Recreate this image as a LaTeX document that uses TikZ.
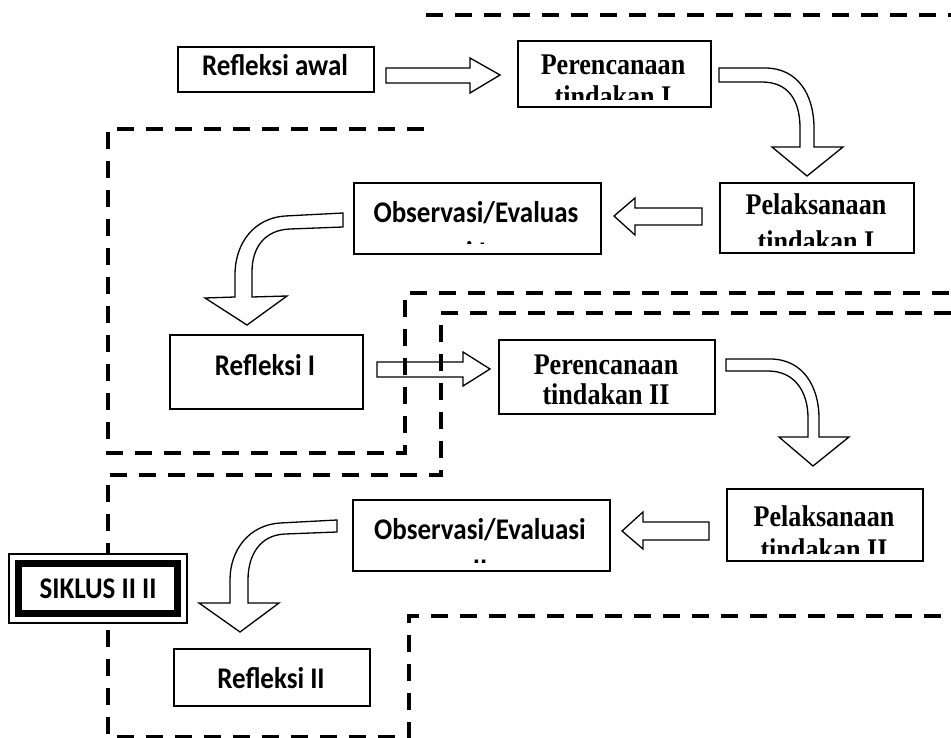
\documentclass[tikz,border=0pt]{standalone}
\usepackage{fontspec}
\newfontfamily\calfont{Carlito}[FakeStretch=0.9]
\newfontfamily\timesfont{Liberation Serif}[FakeStretch=0.87]
\begin{document}
\begin{tikzpicture}[x=1pt,y=-1pt,
  box/.style={draw, line width=1.7pt, fill=white, inner sep=0pt, anchor=north west},
  arr/.style={draw, line width=1.3pt, fill=white, line join=miter},
  dsh/.style={line width=4pt, dash pattern=on 17pt off 12pt},
  cf/.style={font=\calfont\bfseries\fontsize{30}{34}\selectfont, inner sep=0pt, anchor=base},
  tf/.style={font=\timesfont\bfseries\fontsize{30}{34}\selectfont, inner sep=0pt, anchor=base}]
\useasboundingbox (0,0) rectangle (951,738);
% boxes
\node[box, minimum width=196pt, minimum height=45pt] (awal) at (177,46) {};
\node[box, minimum width=193pt, minimum height=66pt] (per1) at (517,40) {};
\node[box, minimum width=194pt, minimum height=70pt] (pel1) at (719,182) {};
\node[box, minimum width=247pt, minimum height=71pt] (obs1) at (353,182) {};
\node[box, minimum width=193pt, minimum height=74pt] (ref1) at (169,334) {};
\node[box, minimum width=216pt, minimum height=74pt] (per2) at (498,339) {};
\node[box, minimum width=257pt, minimum height=71pt] (obs2) at (352,499) {};
\node[box, minimum width=196pt, minimum height=72pt] (pel2) at (726,488) {};
\node[box, minimum width=196pt, minimum height=57pt] (ref2) at (173,648) {};
% straight block arrows
\draw[arr] (386,68) -- (470,68) -- (470,58) -- (500,75) -- (470,93) -- (470,83) -- (386,83) -- cycle;
\draw[arr] (702,208) -- (635,208) -- (635,198) -- (614,216) -- (635,235) -- (635,225) -- (702,225) -- cycle;
\draw[arr] (377,362) -- (463,362) -- (463,352) -- (490,369) -- (463,386) -- (463,377) -- (377,377) -- cycle;
\draw[arr] (709,522) -- (643,522) -- (643,512) -- (622,531) -- (643,549) -- (643,540) -- (709,540) -- cycle;
% curved block arrows
\draw[arr] (719,68) -- (765,68) .. controls (798,68) and (814,95) .. (814,128) -- (814,147) -- (843,147) -- (807,176) -- (772,147) -- (800,147) -- (800,128) .. controls (800,100) and (788,82) .. (762,82) -- (719,82) -- cycle;
\draw[arr] (726,359) -- (770,359) .. controls (804,359) and (819,388) .. (819,418) -- (819,437) -- (849,437) -- (813,466) -- (779,437) -- (808,437) -- (808,418) .. controls (808,392) and (795,371) .. (768,371) -- (726,371) -- cycle;
\draw[arr] (343,213) -- (285,216) .. controls (255,218) and (235,242) .. (235,275) -- (235,297) -- (205,298) -- (247,325) -- (287,296) -- (252,297) -- (252,272) .. controls (252,247) and (265,230) .. (290,229) -- (343,227) -- cycle;
\draw[arr] (337,520) -- (280,523) .. controls (249,525) and (230,550) .. (230,580) -- (230,603) -- (199,603) -- (240,632) -- (279,603) -- (248,603) -- (248,580) .. controls (248,555) and (260,535) .. (285,534) -- (337,532) -- cycle;
% dashed frames
\draw[dsh] (426,15) -- (951,15);
\draw[dsh] (424,129) -- (108,129) -- (108,453) -- (405,453) -- (405,293) -- (951,293);
\draw[dsh] (951,313) -- (441,313) -- (441,475) -- (108,475) -- (108,737) -- (409,737) -- (409,616) -- (951,616);
% SIKLUS box
\node[draw, line width=1.5pt, fill=white, minimum width=178pt, minimum height=69pt, anchor=north west] (sik) at (8,553) {};
\draw[line width=7pt] ([shift={(10,10)}]sik.north west) rectangle ([shift={(-10,-10)}]sik.south east);
\node[cf] (siktext) at (98,598) {SIKLUS II II};
% texts
\node[cf] (tawal) at (275,76) {Refleksi awal};
\begin{scope}
\clip (517,40) rectangle (710,100);
\node[tf] (tper1a) at (613,75) {Perencanaan};
\node[tf] (tper1b) at (613,107) {tindakan I};
\end{scope}
\begin{scope}
\clip (719,182) rectangle (913,246);
\node[tf] (tpel1a) at (816,215) {Pelaksanaan};
\node[tf] (tpel1b) at (816,252) {tindakan I};
\end{scope}
\begin{scope}
\clip (353,182) rectangle (600,244);
\node[cf] (tobs1a) at (476,223) {Observasi/Evaluas};
\node[cf] (tobs1b) at (476,263) {i I};
\end{scope}
\node[cf] (tref1) at (265,375) {Refleksi I};
\begin{scope}
\clip (498,339) rectangle (714,406);
\node[tf] (tper2a) at (606,374) {Perencanaan};
\node[tf] (tper2b) at (606,404) {tindakan II};
\end{scope}
\begin{scope}
\clip (352,499) rectangle (609,562);
\node[cf] (tobs2a) at (480,539) {Observasi/Evaluasi};
\node[cf] (tobs2b) at (480,579) {II};
\end{scope}
\begin{scope}
\clip (726,488) rectangle (922,553);
\node[tf] (tpel2a) at (824,526) {Pelaksanaan};
\node[tf] (tpel2b) at (824,559) {tindakan II};
\end{scope}
\node[cf] (tref2) at (271,688) {Refleksi II};
\end{tikzpicture}
\end{document}
